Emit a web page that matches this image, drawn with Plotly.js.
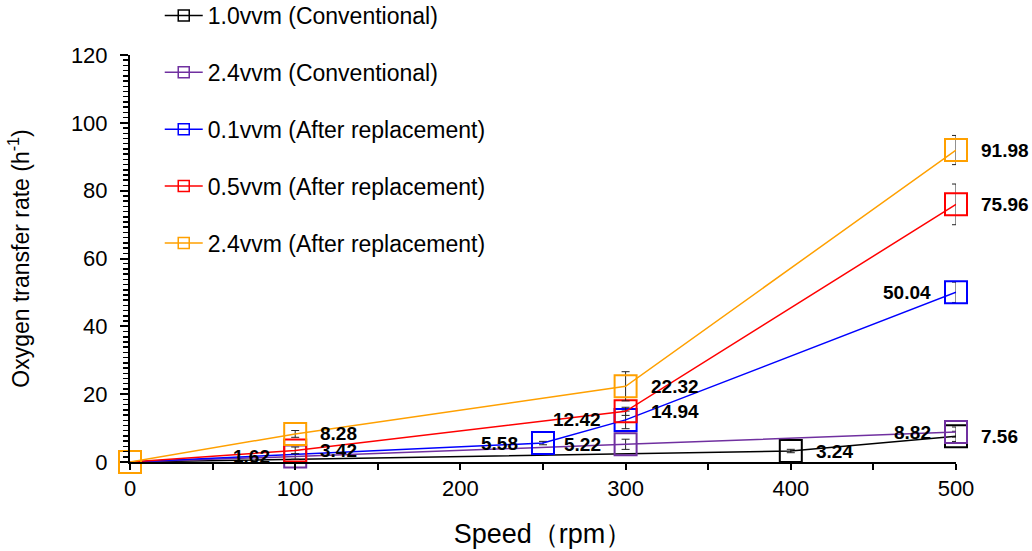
<!DOCTYPE html>
<html>
<head>
<meta charset="utf-8">
<script src="https://cdn.plot.ly/plotly-3.0.1.min.js"></script>
<style>
  html, body { margin: 0; padding: 0; background: #fff; }
  #chart { width: 1032px; height: 551px; }
</style>
</head>
<body>
<div id="chart"></div>
<script>
// Oxygen transfer rate vs. agitation speed, conventional vs. after replacement
var seriesNames = [
  '1.0vvm (Conventional)',
  '2.4vvm (Conventional)',
  '0.1vvm (After replacement)',
  '0.5vvm (After replacement)',
  '2.4vvm (After replacement)'
];

var speedConv10 = [0, 400, 500];
var otrConv10   = [0, 3.24, 7.56];
var errConv10   = [0, 0.5, 1.5];

var speedConv24 = [0, 100, 300, 500];
var otrConv24   = [0, 1.62, 5.22, 8.82];
var errConv24   = [0, 0.8, 1.5, 1.5];

var speedRep01 = [0, 250, 300, 500];
var otrRep01   = [0, 5.58, 12.42, 50.04];
var errRep01   = [0, 0.5, 2.6, 3.0];

var speedRep05 = [0, 100, 300, 500];
var otrRep05   = [0, 3.42, 14.94, 75.96];
var errRep05   = [0, 1.0, 1.2, 6.0];

var speedRep24 = [0, 100, 300, 500];
var otrRep24   = [0, 8.28, 22.32, 91.98];
var errRep24   = [0, 1.0, 4.3, 4.3];

// which side of the marker each value label sits on ('' = no label)
var sideConv10 = ['', 'r', 'r'];
var sideConv24 = ['', 'l', 'l', 'l'];
var sideRep01  = ['', 'l', 'l', 'l'];
var sideRep05  = ['', 'r', 'r', 'r'];
var sideRep24  = ['', 'r', 'r', 'r'];

var colors = ['#000000', '#7030a0', '#0000ff', '#ff0000', '#ffa000'];

var xs = [speedConv10, speedConv24, speedRep01, speedRep05, speedRep24];
var ys = [otrConv10, otrConv24, otrRep01, otrRep05, otrRep24];
var errs = [errConv10, errConv24, errRep01, errRep05, errRep24];
var sides = [sideConv10, sideConv24, sideRep01, sideRep05, sideRep24];

var FONT = 'Arial, "Liberation Sans", sans-serif';

var traces = [];
var annotations = [];

for (var i = 0; i < seriesNames.length; i++) {
  traces.push({
    type: 'scatter',
    mode: 'lines+markers',
    x: xs[i],
    y: ys[i],
    name: seriesNames[i],
    showlegend: false,
    cliponaxis: false,
    line: { color: colors[i], width: 1.5 },
    marker: { symbol: 'square-open', size: 22, color: colors[i], line: { width: 2, color: colors[i] } },
    error_y: { type: 'data', array: errs[i], visible: true, color: '#222', thickness: 1, width: 4 }
  });
  for (var j = 0; j < xs[i].length; j++) {
    var s = sides[i][j];
    if (!s) continue;
    annotations.push({
      x: xs[i][j], y: ys[i][j], xref: 'x', yref: 'y',
      text: '<b>' + ys[i][j].toFixed(2) + '</b>',
      showarrow: false,
      xanchor: s === 'r' ? 'left' : 'right',
      xshift: s === 'r' ? 23 : -23,
      yanchor: 'middle',
      font: { family: FONT, size: 19, color: '#000' }
    });
  }
}

// legend entries with small markers
for (var k = 0; k < seriesNames.length; k++) {
  traces.push({
    type: 'scatter',
    mode: 'lines+markers',
    x: [null], y: [null],
    name: seriesNames[k],
    legendgroup: 'g' + k,
    line: { color: colors[k], width: 1.5 },
    marker: { symbol: 'square-open', size: 11, color: colors[k], line: { width: 1.5, color: colors[k] } }
  });
}

var layout = {
  width: 1032,
  height: 551,
  margin: { l: 130, r: 76, t: 55, b: 89, autoexpand: false },
  paper_bgcolor: '#fff',
  plot_bgcolor: '#fff',
  showlegend: true,
  legend: {
    x: 0.036, y: 1.15, xanchor: 'left', yanchor: 'top',
    bgcolor: 'rgba(0,0,0,0)',
    font: { family: FONT, size: 23, color: '#000' },
    tracegroupgap: 24,
    itemwidth: 38,
    maxheight: 540
  },
  xaxis: {
    range: [0, 500],
    dtick: 100,
    tick0: 0,
    ticks: 'outside',
    ticklen: 6,
    tickwidth: 2,
    tickcolor: '#000',
    minor: { dtick: 50, ticks: 'outside', ticklen: 6, tickwidth: 2, tickcolor: '#000' },
    showline: true,
    linecolor: '#000',
    linewidth: 2,
    showgrid: false,
    zeroline: false,
    automargin: false,
    tickfont: { family: FONT, size: 22, color: '#000' },
    title: { text: 'Speed（rpm）', font: { family: FONT, size: 27, color: '#000' }, standoff: 24 }
  },
  yaxis: {
    range: [0, 120],
    dtick: 20,
    tick0: 0,
    ticks: 'outside',
    ticklen: 8,
    tickwidth: 2,
    tickcolor: '#000',
    minor: { dtick: 20 / 13, ticks: 'outside', ticklen: 5, tickwidth: 1.5, tickcolor: '#000' },
    showline: true,
    linecolor: '#000',
    linewidth: 2,
    showgrid: false,
    zeroline: false,
    automargin: false,
    ticklabelstandoff: 8,
    tickfont: { family: FONT, size: 22, color: '#000' },
    title: { text: 'Oxygen transfer rate (h<sup>-1</sup>)', font: { family: FONT, size: 23, color: '#000' }, standoff: 35 }
  },
  annotations: annotations
};

Plotly.newPlot('chart', traces, layout, { displayModeBar: false, staticPlot: true });
</script>
</body>
</html>
